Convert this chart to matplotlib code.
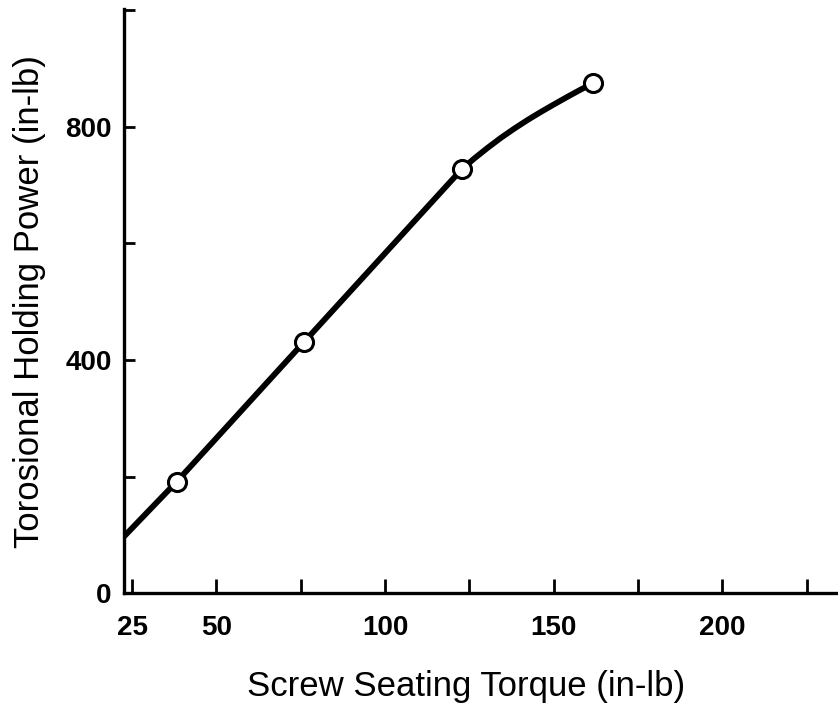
import matplotlib.pyplot as plt

# points (torque in-lb, holding power in-lb)
torque = [38.2, 76.0, 122.7, 161.8]
holding = [191, 431, 727, 875]

# trace of the drawn curve
curve_torque = [22.6, 38.2, 76.0, 122.7, 126.5, 130.4, 134.3, 138.3,
                142.3, 146.3, 150.2, 154.2, 158.0, 161.8]
curve_holding = [97, 191, 431, 727, 746, 764, 781, 797,
                 812, 826, 839, 852, 864, 875]

x_ticks = [25, 50, 75, 100, 125, 150, 175, 200, 225]
x_labels = ['25', '50', '', '100', '', '150', '', '200', '']
y_ticks = [0, 200, 400, 600, 800, 1000]
y_labels = ['0', '', '400', '', '800', '']

plt.rcParams['font.family'] = ['Liberation Sans', 'DejaVu Sans']

fig = plt.figure(figsize=(8.38, 7.06), dpi=100)
ax = fig.add_axes([0.148, 0.160, 0.852, 0.827])

ax.plot(curve_torque, curve_holding, '-', color='black', linewidth=4.2,
        solid_capstyle='butt', solid_joinstyle='round', zorder=2)
ax.plot(torque, holding, 'o', markersize=13, markerfacecolor='white',
        markeredgecolor='black', markeredgewidth=2.2, zorder=3)

ax.set_xlim(22.6, 234.3)
ax.set_ylim(0, 1002)

ax.set_xticks(x_ticks)
ax.set_xticklabels(x_labels, fontsize=20, fontweight='bold')
ax.set_yticks(y_ticks)
ax.set_yticklabels(y_labels, fontsize=20, fontweight='bold')

ax.tick_params(axis='x', direction='in', length=10, width=2, pad=16)
ax.tick_params(axis='y', direction='in', length=8, width=2, pad=9)

for side in ['top', 'right']:
    ax.spines[side].set_visible(False)
for side in ['left', 'bottom']:
    ax.spines[side].set_linewidth(2.4)

ax.set_xlabel('Screw Seating Torque (in-lb)', fontsize=25, labelpad=21, x=0.479)
ax.set_ylabel('Torosional Holding Power (in-lb)', fontsize=25, labelpad=14)

fig.savefig('out.png', dpi=100)
